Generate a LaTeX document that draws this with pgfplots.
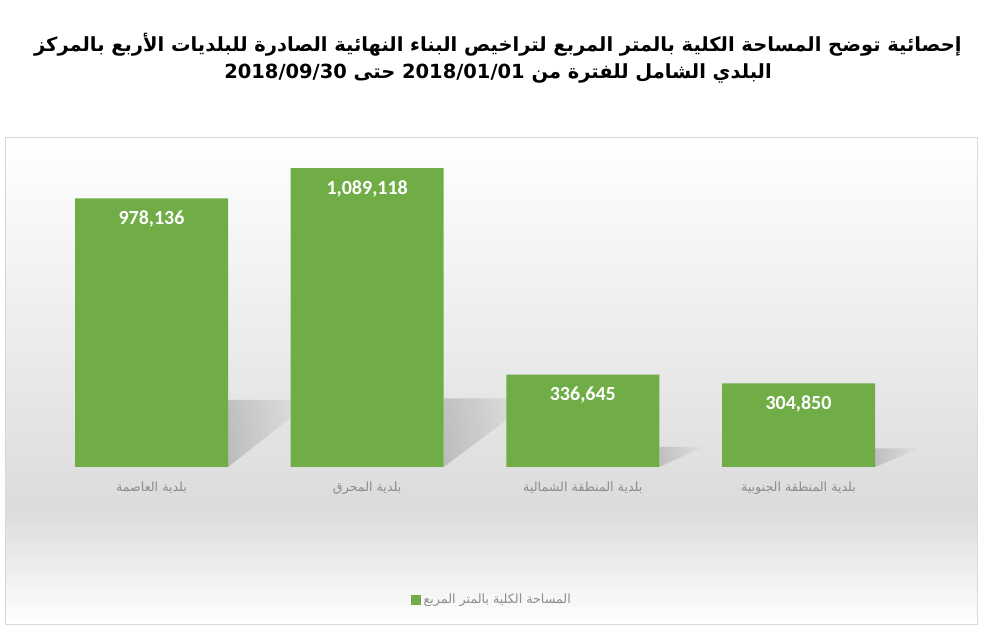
\documentclass[border=0pt]{standalone}
\usepackage{fontspec}
\usepackage{pgfplots}
\pgfplotsset{compat=1.18}
\usetikzlibrary{fadings}
\setmainfont{Carlito}
\newfontfamily\arabicfont[Script=Arabic]{DejaVu Sans}
\TeXXeTstate=1
\definecolor{bargreen}{HTML}{70AD47}
\definecolor{labgray}{HTML}{8C8C8C}
\begin{document}
\begin{tikzpicture}[x=0.75pt,y=0.75pt]
\path[use as bounding box] (0,0) rectangle (1000,634);
% background box
\shade[top color=white, bottom color=black!14] (5,124) rectangle (977,497);
\shade[top color=black!14, bottom color=white] (5,10) rectangle (977,124);
\draw[black!15] (5,10) rectangle (977,497);
% title
\node[font=\arabicfont\bfseries\fontsize{14.6}{20}\selectfont, align=center] at (498,576)
 {\beginR إحصائية توضح المساحة الكلية بالمتر المربع لتراخيص البناء النهائية الصادرة للبلديات الأربع بالمركز\endR\\
  \beginR البلدي الشامل للفترة من \beginL 2018/01/01\endL{} حتى \beginL 2018/09/30\endL\endR};
\begin{axis}[
  at={(32.75pt,125.25pt)}, anchor=south west,
  scale only axis, width=647pt, height=245.25pt,
  xmin=-0.5, xmax=3.5, ymin=0, ymax=1191257,
  axis line style={draw=none}, tick style={draw=none},
  ytick=\empty, xtick={0,1,2,3},
  xticklabels={{\beginR بلدية العاصمة\endR},{\beginR بلدية المحرق\endR},{\beginR بلدية المنطقة الشمالية\endR},{\beginR بلدية المنطقة الجنوبية\endR}},
  xticklabel style={font=\arabicfont\fontsize{9.5}{11}\selectfont, text=labgray, yshift=-8pt},
  legend style={at={(0.52,-0.407)}, anchor=center, draw=none, fill=none,
    font=\arabicfont\fontsize{9.5}{11}\selectfont, text=labgray},
  legend image code/.code={\fill[bargreen] (0pt,-3.75pt) rectangle (7.5pt,3.75pt);},
  clip=false,
]
\fill[black, opacity=0.16, path fading=east] (axis cs:0.3547,0) -- (axis cs:0.3547,244000) -- (axis cs:0.75,244000) -- cycle;
\fill[black, opacity=0.16, path fading=east] (axis cs:1.3547,0) -- (axis cs:1.3547,250000) -- (axis cs:1.78,250000) -- cycle;
\fill[black, opacity=0.15, path fading=east] (axis cs:2.3547,0) -- (axis cs:2.3547,73000) -- (axis cs:2.56,73000) -- cycle;
\fill[black, opacity=0.15, path fading=east] (axis cs:3.3547,0) -- (axis cs:3.3547,68000) -- (axis cs:3.56,68000) -- cycle;
\addplot[ybar, bar width=114.75pt, fill=bargreen, draw=none,
  nodes near coords={\pgfmathprintnumber[fixed,precision=0,1000 sep={,},assume math mode=true]{\pgfplotspointmeta}},
  every node near coord/.append style={anchor=north, yshift=-9pt, inner sep=0pt, text=white, font=\bfseries\fontsize{15}{15}\selectfont}]
  coordinates {(0,978136) (1,1089118) (2,336645) (3,304850)};
\addlegendentry{\beginR المساحة الكلية بالمتر المربع\endR}
\end{axis}
\end{tikzpicture}
\end{document}
